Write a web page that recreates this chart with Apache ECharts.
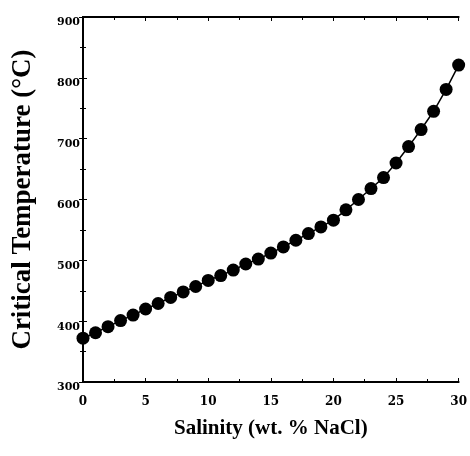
<!DOCTYPE html>
<html>
<head>
<meta charset="utf-8">
<script src="https://cdn.jsdelivr.net/npm/echarts@6/dist/echarts.min.js"></script>
<style>html,body{margin:0;padding:0;background:#fff}#c{width:470px;height:456px}</style>
</head>
<body>
<div id="c"></div>
<script>
var salinity = [0,1,2,3,4,5,6,7,8,9,10,11,12,13,14,15,16,17,18,19,20,21,22,23,24,25,26,27,28,29,30];
var criticalTemp = [372,381,391,401,410,420,429,439,448,457,467,475,484,494,502,512,522,533,544,555,566,583,600,618,636,660,687,715,745,781,821];
var xTitle = 'Salinity (wt. % NaCl)';
var yTitle = 'Critical Temperature (°C)';

var chart = echarts.init(document.getElementById('c'));
var tickFont = {fontFamily:'DejaVu Serif', fontWeight:'bold', color:'#000'};
var frameLine = {show:true, lineStyle:{color:'#000', width:2}};
chart.setOption({
  animation:false,
  backgroundColor:'#fff',
  grid:{left:83, right:8, top:17, bottom:74},
  xAxis:[{
    type:'value', min:0, max:30, interval:5, position:'bottom',
    axisLine:frameLine,
    axisTick:{show:true, inside:true, length:4, lineStyle:{color:'#000'}},
    minorTick:{show:true, splitNumber:2, length:3, lineStyle:{color:'#000'}},
    splitLine:{show:false},
    axisLabel:Object.assign({fontSize:12, margin:14}, tickFont),
    name:xTitle, nameLocation:'middle', nameGap:36,
    nameTextStyle:{fontFamily:'Liberation Serif', fontWeight:'bold', fontSize:21, color:'#000'}
  },{
    type:'value', min:0, max:30, interval:5, position:'top',
    axisLine:frameLine,
    axisTick:{show:true, inside:true, length:4, lineStyle:{color:'#000'}},
    minorTick:{show:true, splitNumber:2, length:3, lineStyle:{color:'#000'}},
    splitLine:{show:false}, axisLabel:{show:false}
  }],
  yAxis:[{
    type:'value', min:300, max:900, interval:100, position:'left',
    axisLine:frameLine,
    axisTick:{show:true, inside:true, length:4, lineStyle:{color:'#000'}},
    minorTick:{show:true, splitNumber:2, length:3, lineStyle:{color:'#000'}},
    splitLine:{show:false},
    axisLabel:Object.assign({fontSize:11, margin:3, verticalAlign:'top'}, tickFont),
    name:yTitle, nameLocation:'middle', nameGap:46,
    nameTextStyle:{fontFamily:'Liberation Serif', fontWeight:'bold', fontSize:27, color:'#000'}
  },{
    type:'value', min:300, max:900, interval:100, position:'right',
    axisLine:frameLine,
    axisTick:{show:true, inside:true, length:4, lineStyle:{color:'#000'}},
    minorTick:{show:true, splitNumber:2, length:3, lineStyle:{color:'#000'}},
    splitLine:{show:false}, axisLabel:{show:false}
  }],
  series:[{
    type:'line', xAxisIndex:0, yAxisIndex:0,
    data: salinity.map(function(s,i){return [s, criticalTemp[i]];}),
    symbol:'circle', symbolSize:13, clip:false,
    lineStyle:{color:'#000', width:1.5},
    itemStyle:{color:'#000'}
  }]
});
</script>
</body>
</html>
